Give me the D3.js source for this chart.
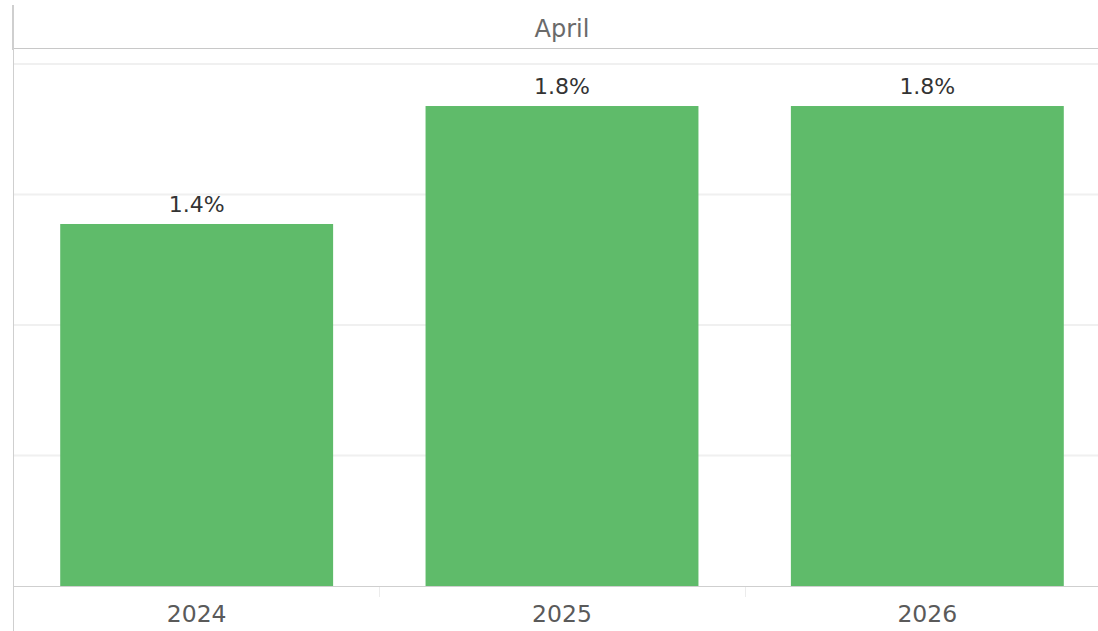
<!DOCTYPE html>
<html><head><meta charset="utf-8">
<script src="https://cdn.jsdelivr.net/npm/d3@7"></script>
<style>body{margin:0;background:#fff;overflow:hidden}svg{display:block}</style>
</head><body>
<svg id="chart" width="1098" height="631"></svg>
<script>
const categories = ["2024", "2025", "2026"];
const values = [1.387, 1.839, 1.839];
const labels = ["1.4%", "1.8%", "1.8%"];
const gridTicks = [0.5, 1.0, 1.5, 2.0];
const headerTitle = "April";

(function () {
const svg = d3.select("#chart");
const W = 1098, H = 631;
const plotLeft = 14, rightExt = 1110, plotTop = 64, plotBottom = 586;
const FONT = "'DejaVu Sans', sans-serif";

const x = d3.scaleBand().domain(categories).range([plotLeft, rightExt]).paddingInner(0.253).paddingOuter(0.1265);
const y = d3.scaleLinear().domain([0, 2.0]).range([plotBottom, plotTop]);

// gridlines
svg.append("g").selectAll("line").data(gridTicks).join("line")
  .attr("x1", plotLeft).attr("x2", W)
  .attr("y1", d => y(d)).attr("y2", d => y(d))
  .attr("stroke", "#f0f0f0").attr("stroke-width", 2);

// header
svg.append("line").attr("x1", plotLeft).attr("x2", W).attr("y1", 48.5).attr("y2", 48.5)
  .attr("stroke", "#c8c8c8").attr("stroke-width", 1);
svg.append("text").attr("x", (plotLeft + rightExt) / 2).attr("y", 37)
  .attr("text-anchor", "middle").attr("font-family", FONT)
  .attr("font-size", 24).attr("fill", "#6a6a6a").text(headerTitle);

// bars
svg.append("g").selectAll("rect").data(categories).join("rect")
  .attr("x", d => x(d)).attr("width", x.bandwidth())
  .attr("y", (d, i) => y(values[i])).attr("height", (d, i) => y(0) - y(values[i]))
  .attr("fill", "#5fbb6a");

// value labels
svg.append("g").selectAll("text").data(categories).join("text")
  .attr("x", d => x(d) + x.bandwidth() / 2)
  .attr("y", (d, i) => y(values[i]) - 12)
  .attr("text-anchor", "middle").attr("font-family", FONT)
  .attr("font-size", 22).attr("fill", "#333").text((d, i) => labels[i]);

// baseline
svg.append("line").attr("x1", plotLeft).attr("x2", W).attr("y1", 586.5).attr("y2", 586.5)
  .attr("stroke", "#cfcfcf").attr("stroke-width", 1);

// column dividers in x-axis area
const dividers = categories.slice(1).map(c => x(c) - x.step() * x.paddingInner() / 2);
svg.append("g").selectAll("line").data(dividers).join("line")
  .attr("x1", d => Math.round(d) + 0.5).attr("x2", d => Math.round(d) + 0.5)
  .attr("y1", 587).attr("y2", 597).attr("stroke", "#ececec").attr("stroke-width", 1);

// x-axis labels
svg.append("g").selectAll("text").data(categories).join("text")
  .attr("x", d => x(d) + x.bandwidth() / 2).attr("y", 622)
  .attr("text-anchor", "middle").attr("font-family", FONT)
  .attr("font-size", 23.5).attr("fill", "#5a5a5a").text(d => d);

// left border
svg.append("line").attr("x1", 13.5).attr("x2", 13.5).attr("y1", 5).attr("y2", H)
  .attr("stroke", "#cfcfcf").attr("stroke-width", 1);
svg.append("line").attr("x1", 13).attr("x2", 13).attr("y1", 5).attr("y2", 50)
  .attr("stroke", "#cfcfcf").attr("stroke-width", 2);
})();
</script>
</body></html>
